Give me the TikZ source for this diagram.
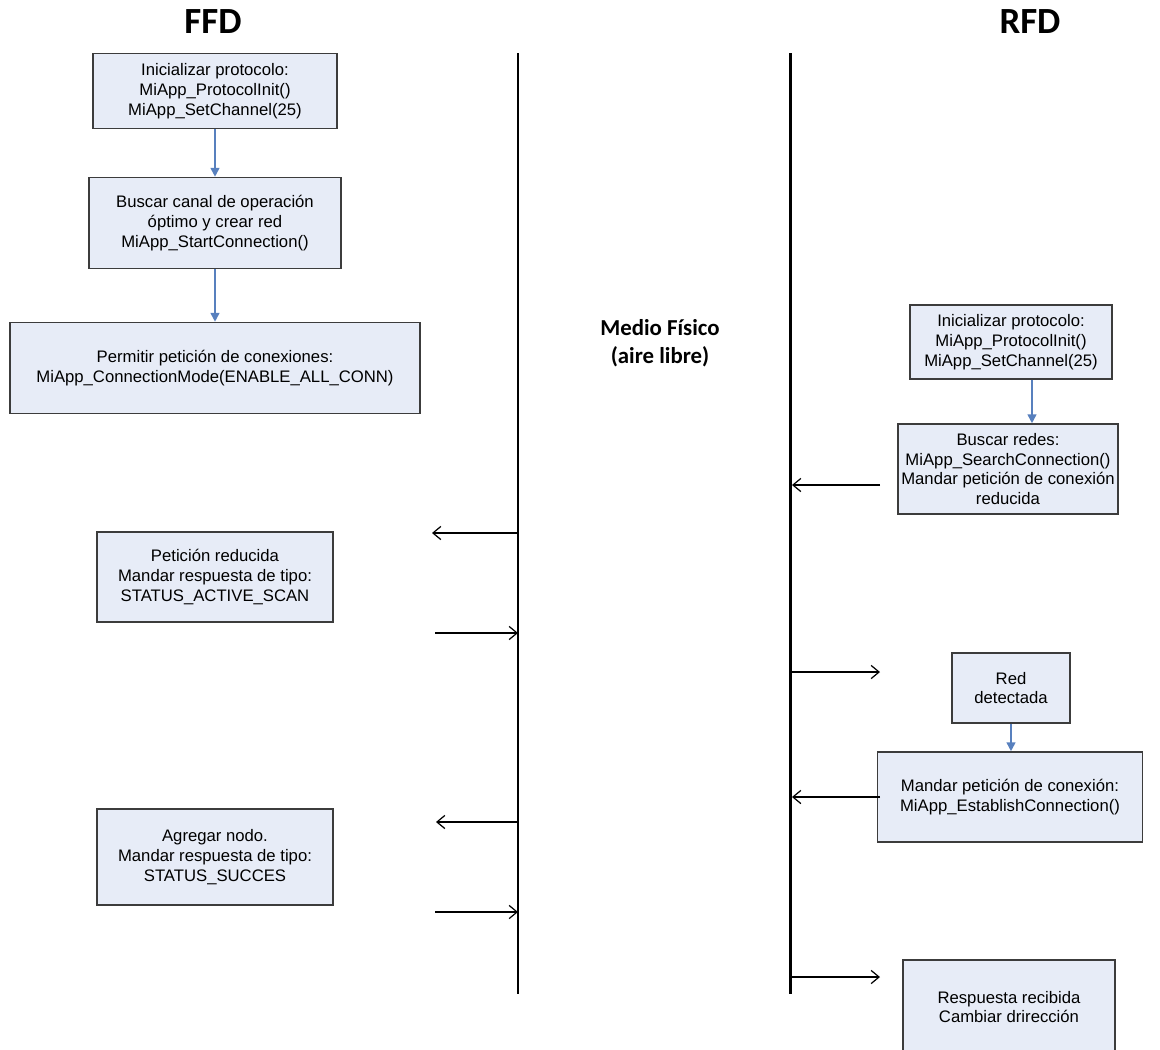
\documentclass[tikz,border=0pt]{standalone}
\usepackage{fontspec}
\setmainfont{Liberation Sans}
\newfontfamily\titlefont{Carlito}
\usetikzlibrary{arrows.meta}
\definecolor{boxfill}{RGB}{231,236,247}
\definecolor{boxline}{RGB}{60,60,60}
\definecolor{flowblue}{RGB}{88,128,190}
\begin{document}
\begin{tikzpicture}
[x=0.02cm,y=-0.02cm,
  stepbox/.style={draw=boxline,fill=boxfill,line width=0.9pt,align=center,
    inner sep=2pt,font=\fontsize{9.5}{11.3}\selectfont},%
  boxsize/.style 2 args={minimum width=#1*0.02cm,minimum height=#2*0.02cm},%
  flowarrow/.style={draw=flowblue,line width=0.9pt,
    -{Triangle[length=5pt,width=5pt,fill=flowblue]}},%
  msgarrow/.style={line width=0.7pt,-{Straight Barb[length=4.5pt,width=7.5pt]}},%
  medium/.style={line width=1.7pt},%
  devtitle/.style={font=\titlefont\bfseries\fontsize{21}{24}\selectfont}]
\useasboundingbox (0,0) rectangle (1160,1049);
\clip (0,0) rectangle (1160,1049);
%% titles
\node (ffd) at (213,22) [devtitle] {FFD};
\node (rfd) at (1030,22) [devtitle] {RFD};
\node (medio) at (660,343) [align=center,font=\titlefont\bfseries\fontsize{13}{16}\selectfont]
  {Medio Físico\\(aire libre)};
%% boxes
\foreach \nodename/\x/\y/\w/\h/\txt in {
  f1/215/91/244/75/{Inicializar protocolo:\\MiApp\_ProtocolInit()\\MiApp\_SetChannel(25)},
  f2/215/223/252/91/{Buscar canal de operación\\óptimo y crear red\\MiApp\_StartConnection()},
  f3/215/368/410/91/{Permitir petición de conexiones:\\MiApp\_ConnectionMode(ENABLE\_ALL\_CONN)},
  f4/215/577/236/90/{Petición reducida\\Mandar respuesta de tipo:\\STATUS\_ACTIVE\_SCAN},
  f5/215/857/236/96/{Agregar nodo.\\Mandar respuesta de tipo:\\STATUS\_SUCCES},
  r1/1011/342/202/74/{Inicializar protocolo:\\MiApp\_ProtocolInit()\\MiApp\_SetChannel(25)},
  r2/1008/469/209/90/{Buscar redes:\\MiApp\_SearchConnection()\\Mandar petición de conexión\\reducida},
  r3/1011/688/118/70/{Red\\detectada},
  r4/1010/797/265/90/{Mandar petición de conexión:\\MiApp\_EstablishConnection()},
  r5/1009/1007/212/94/{Respuesta recibida\\Cambiar drirección}} {
  \node (\nodename) at (\x,\y) [stepbox,boxsize={\w}{\h}] {\txt};
}
%% flow inside each device
\draw[flowarrow] (f1) -- (f2);
\draw[flowarrow] (f2) -- (f3);
\draw[flowarrow] ([xshift=0.42cm]r1.south) -- ([xshift=0.42cm]r1.south |- r2.north);
\draw[flowarrow] (r3) -- (r3 |- r4.north);
%% physical medium lines
\foreach \name/\x in {lmedio/518, rmedio/790} {
  \coordinate (\name top) at (\x,53);
  \coordinate (\name bot) at (\x,994);
  \draw[medium] (\name top) -- (\name bot);
}
%% messages
\foreach \i/\xs/\xe/\y in {1/518/432/533, 2/435/518/633, 3/518/436/822, 4/435/518/912,
  5/880/792/485, 6/790/880/672, 7/880/792/797, 8/790/880/977} {
  \coordinate (ms\i) at (\xs,\y);
  \coordinate (me\i) at (\xe,\y);
  \draw[msgarrow] (ms\i) -- (me\i);
}
\end{tikzpicture}
\end{document}
